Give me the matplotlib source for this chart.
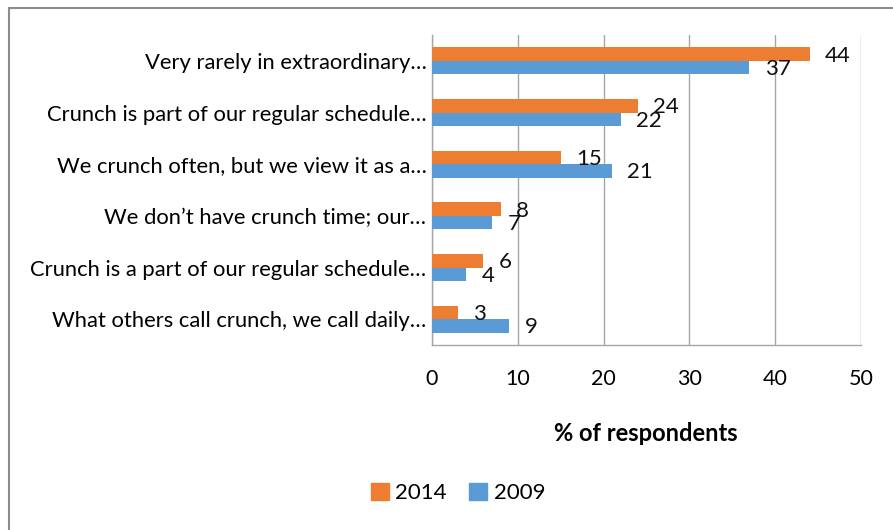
import matplotlib.pyplot as plt
import matplotlib.patches as mpatches
import numpy as np

# data
categories = ['Very rarely in extraordinary\u2026',
              'Crunch is part of our regular schedule\u2026',
              'We crunch often, but we view it as a\u2026',
              'We don\u2019t have crunch time; our\u2026',
              'Crunch is a part of our regular schedule\u2026',
              'What others call crunch, we call daily\u2026']
v2014 = [44, 24, 15, 8, 6, 3]
v2009 = [37, 22, 21, 7, 4, 9]
xticks = [0, 10, 20, 30, 40, 50]

orange = '#ED7D31'
blue = '#5B9BD5'
grid_c = '#a6a6a6'

plt.rcParams['font.family'] = ['Lato', 'DejaVu Sans']

W, H = 893, 530
fig = plt.figure(figsize=(W / 100, H / 100), dpi=100)

# outer frame of the chart (cut off on right and bottom)
frame = mpatches.Rectangle((9 / W, -0.1), 1.2, 1.1 - 8 / H,
                           transform=fig.transFigure, fill=False,
                           edgecolor='#8c8c8c', lw=1.5, clip_on=False)
fig.patches.append(frame)

ax = fig.add_axes([432 / W, (H - 345) / H, 429 / W, 310 / H])

y = np.arange(len(categories)) + 0.5
h = 0.26
ax.barh(y - h / 2, v2014, height=h, color=orange, label='2014', zorder=3)
ax.barh(y + h / 2, v2009, height=h, color=blue, label='2009', zorder=3)

for yi, a, b in zip(y, v2014, v2009):
    ax.annotate(str(a), (a, yi - h / 2), xytext=(11, -1), textcoords='offset points',
                ha='left', va='center', fontsize=16, color='#111111')
    ax.annotate(str(b), (b, yi + h / 2), xytext=(11, -1), textcoords='offset points',
                ha='left', va='center', fontsize=16, color='#111111')

ax.set_xlim(0, 50)
ax.set_ylim(len(categories), 0)
ax.set_xticks(xticks)
ax.set_yticks(y)
ax.set_yticklabels(categories, fontsize=15.8)
ax.tick_params(axis='x', length=0, pad=17, labelsize=15.5)
ax.tick_params(axis='y', length=0, pad=4)

ax.grid(axis='x', color=grid_c, lw=1, zorder=0)
for s in ['top', 'right']:
    ax.spines[s].set_visible(False)
for s in ['left', 'bottom']:
    ax.spines[s].set_color(grid_c)
    ax.spines[s].set_linewidth(1)

ax.set_xlabel('% of respondents', fontsize=17, fontweight='bold')
ax.xaxis.set_label_coords((646 - 432) / 429, -(422 - 345) / 310)

handles = [mpatches.Patch(color=orange, label='2014'),
           mpatches.Patch(color=blue, label='2009')]
fig.legend(handles=handles, loc='center', ncol=2, frameon=False,
           bbox_to_anchor=(458 / W, (H - 493) / H), fontsize=16,
           handlelength=0.8, handleheight=0.8, handletextpad=0.3,
           columnspacing=1.0)

fig.savefig('out.png', dpi=100)
